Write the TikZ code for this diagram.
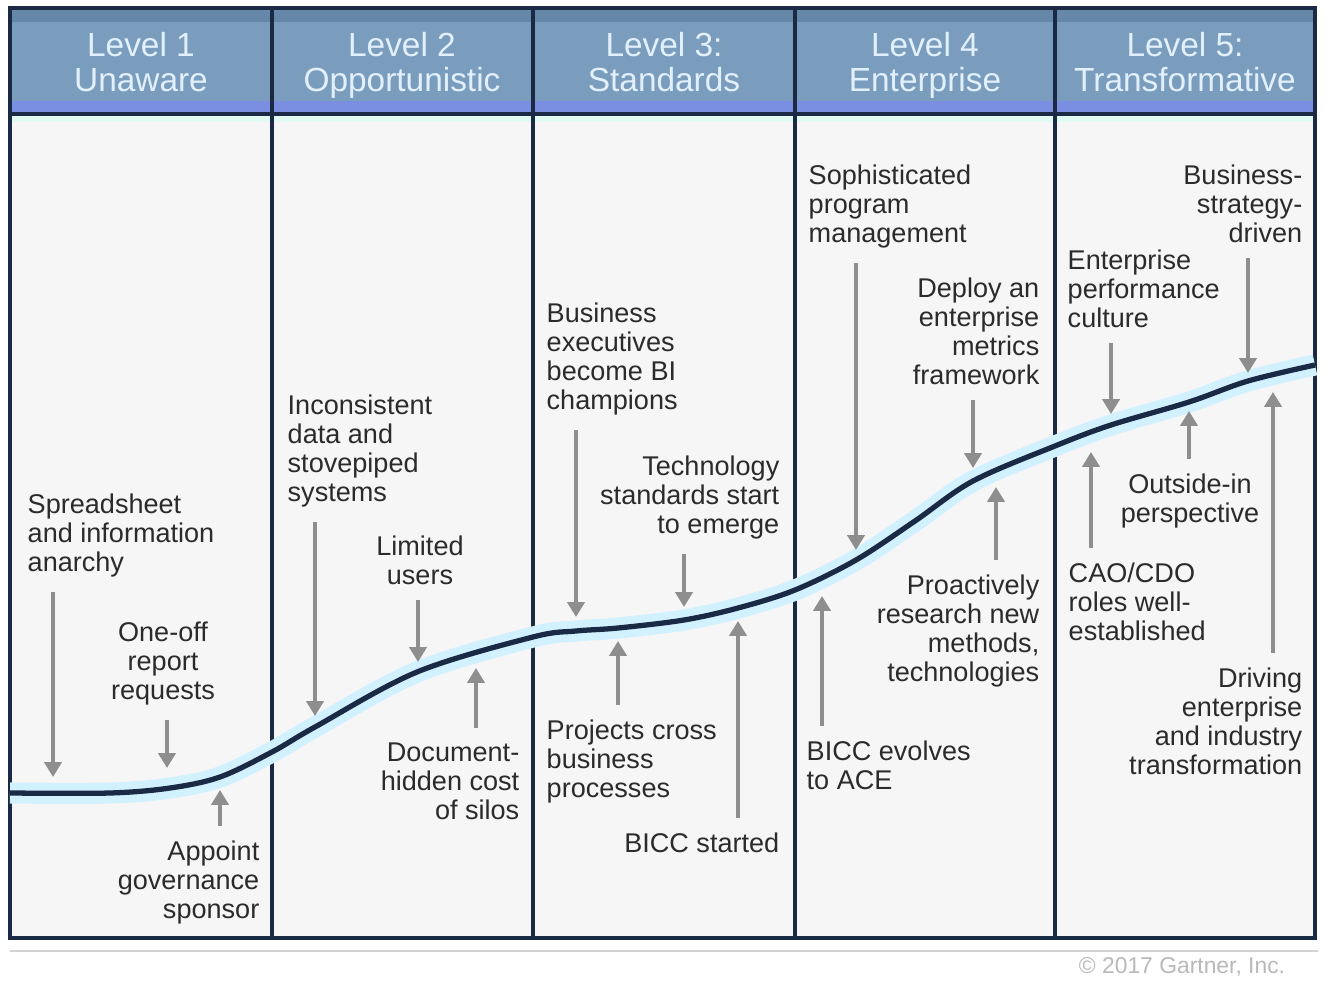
\documentclass[tikz,border=0pt]{standalone}
\usepackage{fontspec}
\setmainfont{Liberation Sans}
\usetikzlibrary{arrows.meta}
\definecolor{hdrblue}{HTML}{7B9DBD}
\definecolor{hdrtop}{HTML}{6587A8}
\definecolor{hdrtext}{HTML}{E2F0FD}
\definecolor{stripe}{HTML}{7A8EE2}
\definecolor{navy}{HTML}{1B2A44}
\definecolor{mint}{HTML}{E2FAF4}
\definecolor{paper}{HTML}{F6F6F6}
\definecolor{glow}{HTML}{D2F1FF}
\definecolor{ink}{HTML}{2B2B2B}
\definecolor{arrowgray}{HTML}{8E8E8E}
\tikzset{
  note/.style={font=\fontsize{7.7}{8.3}\selectfont, text=ink, inner sep=0pt},
  notel/.style={note, align=left, anchor=north west},
  noter/.style={note, align=right, anchor=north east},
  notec/.style={note, align=center, anchor=north},
  lvl/.style={font=\fontsize{9.5}{9.8}\selectfont, text=hdrtext, align=center, anchor=north, inner sep=0pt},
  pointer/.style={draw=arrowgray, line width=1.1pt, -{Triangle[width=4.8pt,length=4.2pt]}, shorten <=4pt},
}
\begin{document}
\begin{tikzpicture}[x=0.01cm, y=-0.01cm]
            \useasboundingbox (0,0) rectangle (1333,994);
            \fill[white] (0,0) rectangle (1333,994);
            \fill[paper] (10,118) rectangle (1315,938);
            \fill[hdrblue] (10,8) rectangle (1315,101);
            \fill[hdrtop] (10,8) rectangle (1315,22);
            \fill[stripe] (10,101) rectangle (1315,112);
            \fill[navy] (10,112) rectangle (1315,116);
            \fill[mint] (10,116) rectangle (1315,122);
            \draw[gray!35, line width=0.5pt] (10,951) -- (1318,951);
            \draw[navy, line width=1pt] (10,8) rectangle (1315,938);
            \foreach \x in {272,533,795,1055}
                \draw[navy, line width=1pt] (\x,8) -- (\x,938);

            \node[lvl] (h1) at (141,32) {Level 1\\Unaware};
            \node[lvl] (h2) at (402,32) {Level 2\\Opportunistic};
            \node[lvl] (h3) at (664,32) {Level 3:\\Standards};
            \node[lvl] (h4) at (925,32) {Level 4\\Enterprise};
            \node[lvl] (h5) at (1185,32) {Level 5:\\Transformative};

            \draw[navy, line width=1.5pt, preaction={draw=glow, line width=6pt}]
                plot[smooth, tension=0.55] coordinates {(10,793) (110,793) (170,788) (220,777)
                (272,752) (315,727) (417,672) (533,637) (576,631) (618,628)
                (684,620) (738,608) (795,590) (856,560) (915,521) (973,481)
                (1055,446) (1111,425) (1189,402) (1248,381) (1315,365)};

            \node[notel] (t1) at (27,493) {Spreadsheet\\and information\\anarchy};
            \node[notec] (t2) at (163,621) {One-off\\report\\requests};
            \node[noter] (t3) at (260,840) {Appoint\\governance\\sponsor};
            \coordinate (c1) at (53,777);
            \coordinate (c2) at (167,768);
            \coordinate (c3) at (220,790);
            \draw[pointer] (t1.south -| c1) -- (c1);
            \draw[pointer] (t2.south -| c2) -- (c2);
            \draw[pointer] (t3.north -| c3) -- (c3);

            \node[notel] (t4) at (287,394) {Inconsistent\\data and\\stovepiped\\systems};
            \node[notec] (t5) at (420,535) {Limited\\users};
            \node[noter] (t6) at (520,742) {Document-\\hidden cost\\of silos};
            \coordinate (c4) at (315,716);
            \coordinate (c5) at (418,662);
            \coordinate (c6) at (476,668);
            \draw[pointer] (t4.south -| c4) -- (c4);
            \draw[pointer] (t5.south -| c5) -- (c5);
            \draw[pointer] (t6.north -| c6) -- (c6);

            \node[notel] (t7) at (546,302) {Business\\executives\\become BI\\champions};
            \node[noter] (t8) at (780,455) {Technology\\standards start\\to emerge};
            \node[notel] (t9) at (546,719) {Projects cross\\business\\processes};
            \node[noter] (t10) at (780,832) {BICC started};
            \coordinate (c7) at (576,617);
            \coordinate (c8) at (684,607);
            \coordinate (c9) at (618,641);
            \coordinate (c10) at (738,621);
            \draw[pointer] (t7.south -| c7) -- (c7);
            \draw[pointer] (t8.south -| c8) -- (c8);
            \draw[pointer] (t9.north -| c9) -- (c9);
            \draw[pointer] (t10.north -| c10) -- (c10);

            \node[notel] (t11) at (808,164) {Sophisticated\\program\\management};
            \node[noter] (t12) at (1040,277) {Deploy an\\enterprise\\metrics\\framework};
            \node[noter] (t13) at (1040,574) {Proactively\\research new\\methods,\\technologies};
            \node[notel] (t14) at (806,740) {BICC evolves\\to ACE};
            \coordinate (c11) at (856,550);
            \coordinate (c12) at (973,468);
            \coordinate (c13) at (996,487);
            \coordinate (c14) at (822,596);
            \draw[pointer] (t11.south -| c11) -- (c11);
            \draw[pointer] (t12.south -| c12) -- (c12);
            \draw[pointer] (t13.north -| c13) -- (c13);
            \draw[pointer] (t14.north -| c14) -- (c14);

            \node[noter] (t15) at (1303,164) {Business-\\strategy-\\driven};
            \node[notel] (t16) at (1067,249) {Enterprise\\performance\\culture};
            \node[notec] (t17) at (1190,473) {Outside-in\\perspective};
            \node[notel] (t18) at (1068,562) {CAO/CDO\\roles well-\\established};
            \node[noter] (t19) at (1303,667) {Driving\\enterprise\\and industry\\transformation};
            \coordinate (c15) at (1248,373);
            \coordinate (c16) at (1111,414);
            \coordinate (c17) at (1189,411);
            \coordinate (c18) at (1091,452);
            \coordinate (c19) at (1273,392);
            \draw[pointer] (t15.south -| c15) -- (c15);
            \draw[pointer] (t16.south -| c16) -- (c16);
            \draw[pointer] (t17.north -| c17) -- (c17);
            \draw[pointer] (t18.north -| c18) -- (c18);
            \draw[pointer] (t19.north -| c19) -- (c19);

            \node[font=\fontsize{6.5}{7}\selectfont, text=gray!55] (cr) at (1182,967) {\textcopyright{} 2017 Gartner, Inc.};
\end{tikzpicture}
\end{document}
